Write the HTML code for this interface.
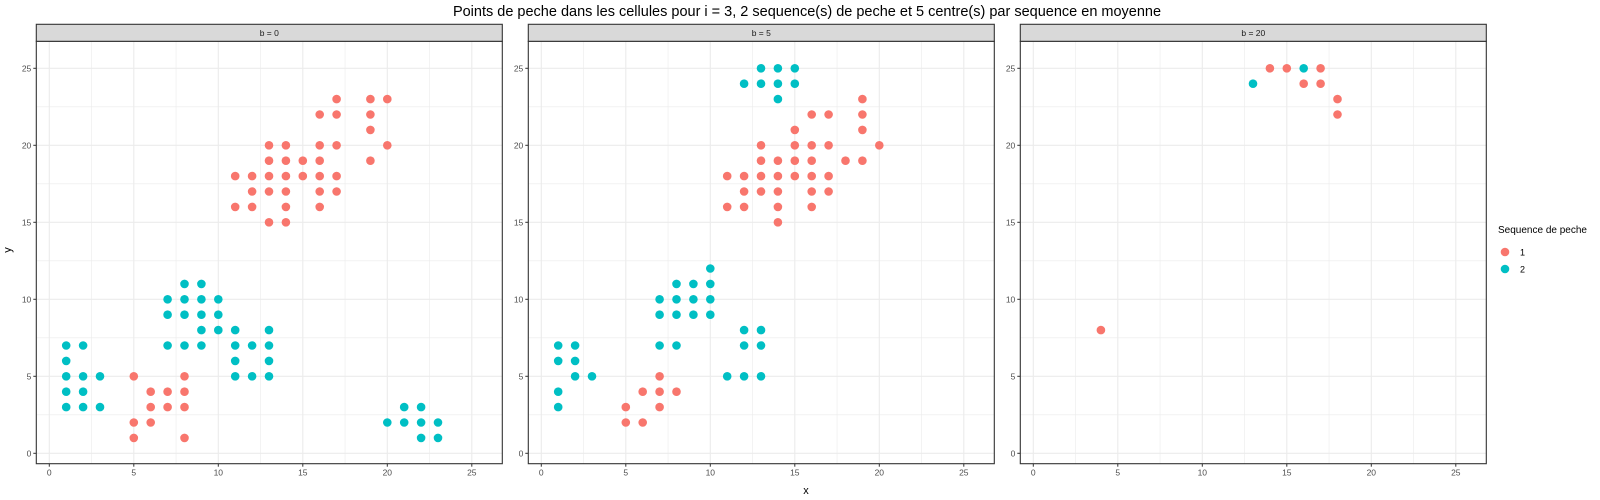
<!DOCTYPE html>
<html><head><meta charset="utf-8"><style>
html,body{margin:0;padding:0;background:#fff;}
svg{display:block;font-family:"Liberation Sans",Arial,sans-serif;}
</style></head><body>
<svg id="chart" width="1600" height="500" viewBox="0 0 1600 500">
<text x="807" y="16" font-size="14.5" text-anchor="middle" fill="#000">Points de peche dans les cellules pour i = 3, 2 sequence(s) de peche et 5 centre(s) par sequence en moyenne</text>
<g id="panels"></g>
<text x="806" y="494" font-size="11" text-anchor="middle" fill="#000">x</text>
<text x="11" y="250" font-size="11" text-anchor="middle" fill="#000" transform="rotate(-90 11 250)">y</text>
<g>
<text x="1498" y="233" font-size="10" fill="#000">Sequence de peche</text>
<g><circle cx="1505" cy="252" r="4.3" fill="#F8766D"/><text x="1520" y="255.5" font-size="9" fill="#000">1</text></g>
<g><circle cx="1505" cy="269" r="4.3" fill="#00BFC4"/><text x="1520" y="272.5" font-size="9" fill="#000">2</text></g>
</g>
</svg>
<script>
const facetLabels = ["b = 0", "b = 5", "b = 20"];
const xTicks = [0, 5, 10, 15, 20, 25];
const yTicks = [0, 5, 10, 15, 20, 25];
// points per facet: [x, y, sequence]
const facet0 = [
[17,23,1],[19,23,1],[20,23,1],[16,22,1],[17,22,1],[19,22,1],[19,21,1],
[13,20,1],[14,20,1],[16,20,1],[17,20,1],[20,20,1],
[13,19,1],[14,19,1],[15,19,1],[16,19,1],[19,19,1],
[11,18,1],[12,18,1],[13,18,1],[14,18,1],[15,18,1],[16,18,1],[17,18,1],
[12,17,1],[13,17,1],[14,17,1],[16,17,1],[17,17,1],
[11,16,1],[12,16,1],[14,16,1],[16,16,1],[13,15,1],[14,15,1],
[5,5,1],[8,5,1],[6,4,1],[7,4,1],[8,4,1],[6,3,1],[7,3,1],[8,3,1],[5,2,1],[6,2,1],[5,1,1],[8,1,1],
[8,11,2],[9,11,2],[7,10,2],[8,10,2],[9,10,2],[10,10,2],[7,9,2],[8,9,2],[9,9,2],[10,9,2],
[9,8,2],[10,8,2],[11,8,2],[13,8,2],
[1,7,2],[2,7,2],[7,7,2],[8,7,2],[9,7,2],[11,7,2],[12,7,2],[13,7,2],
[1,6,2],[11,6,2],[13,6,2],[1,5,2],[2,5,2],[3,5,2],[11,5,2],[12,5,2],[13,5,2],
[1,4,2],[2,4,2],[1,3,2],[2,3,2],[3,3,2],[21,3,2],[22,3,2],
[20,2,2],[21,2,2],[22,2,2],[23,2,2],[22,1,2],[23,1,2]
];
const facet1 = [
[13,25,2],[14,25,2],[15,25,2],[12,24,2],[13,24,2],[14,24,2],[15,24,2],[14,23,2],
[19,23,1],[16,22,1],[17,22,1],[19,22,1],[15,21,1],[19,21,1],
[13,20,1],[15,20,1],[16,20,1],[17,20,1],[20,20,1],
[13,19,1],[14,19,1],[15,19,1],[16,19,1],[18,19,1],[19,19,1],
[11,18,1],[12,18,1],[13,18,1],[14,18,1],[15,18,1],[16,18,1],[17,18,1],
[12,17,1],[13,17,1],[14,17,1],[16,17,1],[17,17,1],
[11,16,1],[12,16,1],[14,16,1],[16,16,1],[14,15,1],
[10,12,2],[8,11,2],[9,11,2],[10,11,2],[7,10,2],[8,10,2],[9,10,2],[10,10,2],
[7,9,2],[8,9,2],[9,9,2],[10,9,2],[12,8,2],[13,8,2],
[1,7,2],[2,7,2],[7,7,2],[8,7,2],[12,7,2],[13,7,2],[1,6,2],[2,6,2],
[2,5,2],[3,5,2],[11,5,2],[12,5,2],[13,5,2],[1,4,2],[1,3,2],
[7,5,1],[6,4,1],[7,4,1],[8,4,1],[5,3,1],[7,3,1],[5,2,1],[6,2,1]
];
const facet2 = [
[14,25,1],[15,25,1],[17,25,1],[16,25,2],[13,24,2],[16,24,1],[17,24,1],[18,23,1],[18,22,1],[4,8,1]
];
const facets = [facet0, facet1, facet2];
const colors = {1:"#F8766D", 2:"#00BFC4"};

const NS = "http://www.w3.org/2000/svg";
const g = document.getElementById("panels");
const panelW = 466, panelTop = 41.3, panelBottom = 463.7, stripTop = 24.3;
const pxPerX = 16.9, x0Off = 13;
const yPx0 = 453.3, pxPerY = 15.4;
function mk(tag, attrs, parent){const e=document.createElementNS(NS,tag);for(const k in attrs)e.setAttribute(k,attrs[k]);parent.appendChild(e);return e;}

facets.forEach((pts, fi) => {
  const left = 36.3 + fi*492;
  const sx = v => left + x0Off + v*pxPerX;
  const sy = v => yPx0 - v*pxPerY;
  const pg = mk("g", {}, g);
  
  
  mk("rect", {x:left, y:panelTop, width:panelW, height:panelBottom-panelTop, fill:"#fff"}, pg);
  for (let v=2.5; v<27; v+=5) {
    mk("line",{x1:sx(v),x2:sx(v),y1:panelTop,y2:panelBottom,stroke:"#ebebeb","stroke-width":0.6},pg);
    if (v<=26) mk("line",{x1:left,x2:left+panelW,y1:sy(v),y2:sy(v),stroke:"#ebebeb","stroke-width":0.6},pg);
  }
  xTicks.forEach(t => mk("line",{x1:sx(t),x2:sx(t),y1:panelTop,y2:panelBottom,stroke:"#ebebeb","stroke-width":1.1},pg));
  yTicks.forEach(t => mk("line",{x1:left,x2:left+panelW,y1:sy(t),y2:sy(t),stroke:"#ebebeb","stroke-width":1.1},pg));
  pts.forEach(p => {
    const c = mk("circle",{cx:sx(p[0]),cy:sy(p[1]),r:4.3,fill:colors[p[2]]},pg);
    
    
  });
  mk("rect",{x:left,y:panelTop,width:panelW,height:panelBottom-panelTop,fill:"none",stroke:"#333","stroke-width":1.1},pg);
  const strip = mk("rect",{x:left,y:stripTop,width:panelW,height:panelTop-stripTop,fill:"#d9d9d9",stroke:"#333","stroke-width":1.1},pg);
  
  
  const st = mk("text",{x:left+panelW/2,y:stripTop+11.5,"font-size":8.5,"text-anchor":"middle",fill:"#1a1a1a"},pg);
  st.textContent = facetLabels[fi];
  
  
  xTicks.forEach(t => {
    mk("line",{x1:sx(t),x2:sx(t),y1:panelBottom,y2:panelBottom+3,stroke:"#333","stroke-width":1},pg);
    const tx = mk("text",{x:sx(t),y:panelBottom+12,"font-size":8.5,"text-anchor":"middle",fill:"#4d4d4d"},pg);
    tx.textContent = t;
    
    
  });
  yTicks.forEach(t => {
    mk("line",{x1:left-3,x2:left,y1:sy(t),y2:sy(t),stroke:"#333","stroke-width":1},pg);
    const ty = mk("text",{x:left-5,y:sy(t)+3,"font-size":8.5,"text-anchor":"end",fill:"#4d4d4d"},pg);
    ty.textContent = t;
    
    
  });
});
</script>
</body></html>
